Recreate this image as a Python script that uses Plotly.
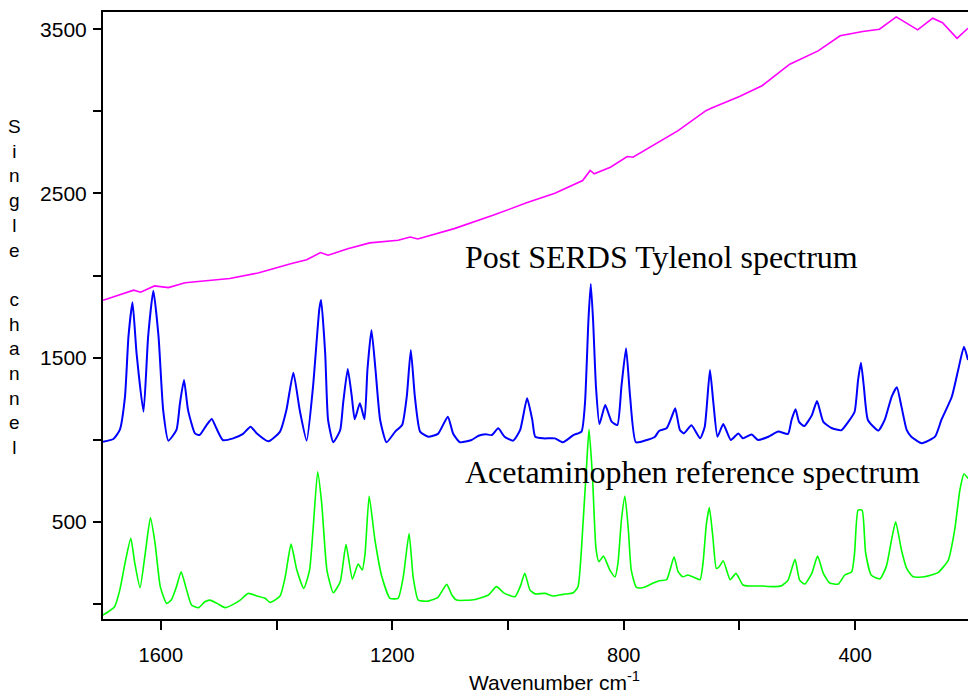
import plotly.graph_objects as go

# ---- data ----
wn_tylenol = [1700, 1682, 1671, 1662, 1656, 1649, 1642, 1630, 1622, 1613, 1604, 1596, 1587, 1573, 1567,
              1560, 1553, 1541, 1533, 1521, 1512, 1504, 1493, 1475, 1458, 1445, 1434, 1414, 1394, 1383,
              1371, 1360, 1348, 1337, 1326, 1323, 1316, 1311, 1302, 1290, 1285, 1277, 1270, 1265, 1256,
              1248, 1243, 1236, 1229, 1221, 1210, 1195, 1183, 1175, 1168, 1161, 1152, 1138, 1121, 1104,
              1095, 1083, 1063, 1051, 1039, 1028, 1017, 1006, 991, 979, 967, 958, 953, 939, 919,
              905, 887, 873, 867, 861, 857, 853, 848, 842, 832, 821, 811, 804, 796, 789,
              779, 760, 746, 739, 726, 717, 711, 703, 696, 683, 668, 660, 651, 645, 638,
              628, 615, 602, 594, 579, 568, 550, 533, 516, 510, 503, 497, 488, 475, 466,
              455, 441, 424, 412, 401, 395, 390, 385, 378, 360, 349, 337, 328, 320, 311,
              303, 285, 262, 251, 233, 222, 212, 205]
tylenol = [988, 1005, 1060, 1263, 1628, 1837, 1527, 1171, 1628, 1908, 1628, 1181, 995, 1060, 1222,
           1364, 1181, 1039, 1029, 1090, 1127, 1070, 999, 1009, 1036, 1080, 1039, 991, 1050, 1181,
           1409, 1181, 995, 1324, 1800, 1851, 1527, 1121, 985, 1060, 1222, 1431, 1263, 1125, 1222,
           1125, 1425, 1669, 1425, 1121, 985, 1050, 1090, 1263, 1547, 1263, 1050, 1019, 1036, 1141,
           1039, 985, 999, 1025, 1034, 1029, 1070, 1019, 995, 1060, 1253, 1120, 1019, 1009, 1009,
           985, 1029, 1050, 1222, 1730, 1949, 1730, 1324, 1096, 1212, 1111, 1090, 1324, 1557, 1263,
           985, 999, 1019, 1054, 1070, 1141, 1192, 1060, 1039, 1088, 1009, 1080, 1425, 1222, 1019,
           1096, 999, 1039, 1009, 1032, 999, 1019, 1050, 1036, 1121, 1186, 1109, 1084, 1149, 1236,
           1109, 1072, 1058, 1109, 1171, 1364, 1470, 1324, 1121, 1056, 1121, 1262, 1320, 1202, 1060,
           1019, 979, 1019, 1121, 1262, 1425, 1567, 1486]

wn_reference = [1700, 1691, 1680, 1671, 1662, 1652, 1645, 1636, 1627, 1618, 1610, 1601, 1590, 1582, 1573,
                1565, 1557, 1547, 1535, 1524, 1515, 1503, 1489, 1475, 1463, 1449, 1434, 1420, 1411, 1394,
                1385, 1375, 1365, 1353, 1343, 1337, 1329, 1322, 1313, 1302, 1290, 1280, 1269, 1259, 1252,
                1247, 1240, 1230, 1218, 1204, 1190, 1181, 1171, 1164, 1155, 1138, 1121, 1106, 1097, 1089,
                1057, 1034, 1020, 1006, 988, 979, 971, 962, 953, 936, 922, 905, 887, 879, 870,
                864, 860, 854, 848, 843, 835, 824, 815, 810, 804, 798, 792, 787, 778, 766,
                749, 738, 726, 720, 713, 706, 698, 689, 677, 668, 663, 657, 652, 646, 640,
                635, 628, 616, 606, 594, 582, 562, 544, 527, 516, 504, 496, 487, 475, 465,
                455, 444, 429, 418, 406, 401, 395, 388, 382, 372, 357, 346, 337, 330, 320,
                311, 300, 280, 257, 239, 228, 219, 212, 205]
reference = [-67, -47, -16, 85, 248, 400, 248, 99, 309, 526, 370, 106, 4, 24, 106,
             197, 106, -6, -22, 14, 24, 4, -22, -2, 24, 65, 49, 35, 10, 49,
             166, 365, 207, 95, 207, 451, 806, 613, 207, 69, 136, 363, 152, 244, 207,
             309, 658, 390, 166, 35, 35, 166, 430, 166, 24, 18, 41, 120, 55, 24,
             28, 55, 106, 65, 45, 106, 187, 85, 62, 65, 49, 59, 69, 106, 512,
             857, 1064, 776, 339, 258, 292, 207, 166, 248, 512, 658, 451, 207, 101, 101,
             128, 142, 148, 207, 288, 197, 166, 177, 160, 148, 248, 492, 587, 410, 217,
             227, 264, 148, 187, 116, 110, 110, 106, 112, 146, 272, 146, 122, 187, 292,
             187, 128, 122, 177, 197, 313, 572, 572, 313, 175, 154, 231, 394, 501, 329,
             217, 166, 166, 191, 268, 451, 695, 792, 765]

wn_single = [1700, 1647, 1635, 1611, 1587, 1558, 1481, 1432, 1374, 1348, 1324, 1311, 1277, 1239, 1190,
             1169, 1156, 1093, 1026, 968, 919, 871, 858, 851, 823, 794, 784, 755, 706, 658,
             648, 600, 561, 513, 464, 426, 387, 358, 329, 292, 266, 249, 224, 205]
single = [1850, 1911, 1899, 1937, 1927, 1956, 1982, 2016, 2073, 2097, 2140, 2124, 2164, 2199, 2215,
          2235, 2223, 2286, 2367, 2443, 2502, 2579, 2640, 2620, 2660, 2725, 2721, 2782, 2883, 3004,
          3020, 3091, 3156, 3287, 3368, 3460, 3486, 3500, 3575, 3496, 3567, 3540, 3445, 3506]

x_tickvals = [1600, 1200, 800, 400]
x_ticktext = ["1600", "1200", "800", "400"]
x_minor_vals = [1400, 1000, 600]
y_tickvals = [500, 1500, 2500, 3500]
y_ticktext = ["500", "1500", "2500", "3500"]
y_minor_vals = [0, 1000, 2000, 3000]

fig = go.Figure()
fig.add_trace(go.Scatter(x=wn_single, y=single, mode="lines",
                         line=dict(color="#FF00FF", width=1.6), showlegend=False))
fig.add_trace(go.Scatter(x=wn_tylenol, y=tylenol, mode="lines",
                         line=dict(color="#0000FF", width=2, shape="spline", smoothing=0.5),
                         showlegend=False))
fig.add_trace(go.Scatter(x=wn_reference, y=reference, mode="lines",
                         line=dict(color="#00FF00", width=1.6, shape="spline", smoothing=0.5),
                         showlegend=False))

sans = "Liberation Sans, Arial, sans-serif"
serif = "Liberation Serif, Times New Roman, serif"

fig.update_layout(
    width=968, height=694,
    margin=dict(l=103, r=0, t=12, b=75),
    paper_bgcolor="white", plot_bgcolor="white",
    xaxis=dict(range=[1700, 205], showgrid=False, zeroline=False,
               showline=True, linecolor="black", linewidth=2, mirror=True,
               ticks="outside", ticklen=9, tickwidth=1.5, tickcolor="black",
               tickvals=x_tickvals, ticktext=x_ticktext,
               tickfont=dict(family=sans, size=20, color="black"),
               ticklabelstandoff=8,
               minor=dict(tickmode="array", tickvals=x_minor_vals, ticks="outside",
                          ticklen=9, tickwidth=1.5, tickcolor="black", showgrid=False)),
    yaxis=dict(range=[-91, 3605], showgrid=False, zeroline=False,
               showline=True, linecolor="black", linewidth=2,
               ticks="outside", ticklen=8, tickwidth=1.5, tickcolor="black",
               tickvals=y_tickvals, ticktext=y_ticktext,
               tickfont=dict(family=sans, size=21, color="black"),
               ticklabelstandoff=2,
               minor=dict(tickmode="array", tickvals=y_minor_vals, ticks="outside",
                          ticklen=8, tickwidth=1.5, tickcolor="black", showgrid=False)),
    annotations=[
        dict(text="S<br>i<br>n<br>g<br>l<br>e<br> <br>c<br>h<br>a<br>n<br>n<br>e<br>l",
             xref="paper", yref="paper", x=-0.102, y=0.547, xanchor="center", yanchor="middle",
             showarrow=False, font=dict(family=sans, size=19, color="black")),
        dict(text="Wavenumber cm<sup>-1</sup>", xref="paper", yref="paper", x=0.522, y=-0.102,
             xanchor="center", yanchor="middle", showarrow=False,
             font=dict(family=sans, size=21, color="black")),
        dict(text="Post SERDS Tylenol spectrum", xref="paper", yref="paper", x=0.416, y=0.596,
             xanchor="left", yanchor="middle", showarrow=False,
             font=dict(family=serif, size=32, color="black")),
        dict(text="Acetaminophen reference spectrum", xref="paper", yref="paper", x=0.416, y=0.242,
             xanchor="left", yanchor="middle", showarrow=False,
             font=dict(family=serif, size=32, color="black")),
    ],
)

fig.write_html("out.html", config={"displayModeBar": False},
               post_script="document.body.style.margin='0';")
